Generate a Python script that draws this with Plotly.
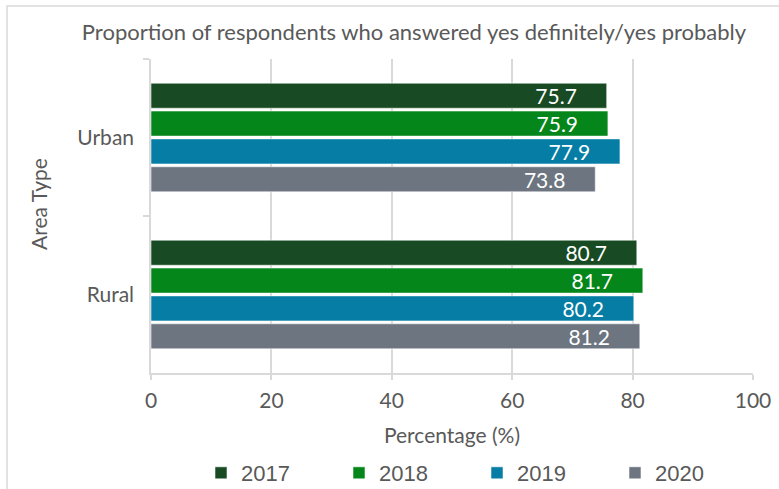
import plotly.graph_objects as go

# Survey results by area type and year
areas = ["Urban", "Rural"]
years = ["2017", "2018", "2019", "2020"]
values_2017 = [75.7, 80.7]
values_2018 = [75.9, 81.7]
values_2019 = [77.9, 80.2]
values_2020 = [73.8, 81.2]
series = [values_2017, values_2018, values_2019, values_2020]
colors = ["#184B24", "#04861A", "#057DA5", "#6C7580"]
x_ticks = [0, 20, 40, 60, 80, 100]

FONT = "Lato"
TEXT_GREY = "#595959"
LINE_GREY = "#D9D9D9"

fig = go.Figure()
for year, vals, col in zip(years, series, colors):
    fig.add_trace(go.Bar(
        y=areas, x=vals, name=year, orientation="h",
        marker=dict(color=col, line=dict(color="rgba(255,255,255,0.55)", width=1)),
        texttemplate="%{x:.1f}" + "\u00a0" * 5,
        textposition="inside", insidetextanchor="end", constraintext="none",
        textfont=dict(color="white", size=21, family=FONT),
        cliponaxis=False,
    ))

W, H = 779, 489
L, R, T, B = 151, 26, 59, 116
pw, ph = W - L - R, H - T - B

def px_x(p):
    return (p - L) / pw

def px_y(p):
    return (H - B - p) / ph

fig.update_layout(
    width=W, height=H,
    margin=dict(l=L, r=R, t=T, b=B, autoexpand=False),
    paper_bgcolor="white", plot_bgcolor="white",
    barmode="group", bargap=0.29, bargroupgap=0.1,
    font=dict(family=FONT, color=TEXT_GREY, size=21),
    title=dict(
        text="Proportion of respondents who answered yes definitely/yes probably",
        x=414 / W, xref="container", xanchor="center", y=1 - 32 / H, yanchor="middle",
        font=dict(size=22, color=TEXT_GREY, family=FONT),
    ),
    xaxis=dict(
        range=[0, 100], tickvals=x_ticks, showgrid=True, gridcolor=LINE_GREY, gridwidth=1.5,
        showline=True, linecolor=LINE_GREY, linewidth=1.5,
        ticks="outside", ticklen=5, tickcolor=LINE_GREY, tickwidth=1.5,
        ticklabelstandoff=3,
        tickfont=dict(size=21, color=TEXT_GREY),
        title=dict(text="Percentage (%)", font=dict(size=21, color=TEXT_GREY), standoff=17),
        zeroline=False, automargin=False,
    ),
    yaxis=dict(
        categoryorder="array", categoryarray=areas, autorange="reversed",
        showline=True, linecolor=LINE_GREY, linewidth=1.5,
        ticks="outside", tickson="boundaries", ticklen=6, tickcolor=LINE_GREY, tickwidth=1.5,
        ticklabelstandoff=11,
        tickfont=dict(size=21, color=TEXT_GREY),
        showgrid=False, automargin=False,
    ),
    legend=dict(
        orientation="h", x=0.5 + 25 / pw, xanchor="center", y=px_y(473), yanchor="middle",
        traceorder="normal", entrywidth=93, entrywidthmode="pixels",
        font=dict(size=22, color=TEXT_GREY, family="Liberation Sans"),
        itemwidth=30,
    ),
    showlegend=True,
    annotations=[dict(
        text="Area Type", textangle=-90, showarrow=False,
        xref="paper", yref="paper", x=px_x(38), y=px_y(204),
        xanchor="center", yanchor="middle",
        font=dict(size=21, color=TEXT_GREY, family=FONT),
    )],
    shapes=[dict(
        type="rect", xref="paper", yref="paper",
        x0=px_x(7), x1=px_x(820), y0=px_y(530), y1=px_y(6),
        line=dict(color=LINE_GREY, width=1.5), layer="below",
    )],
)

fig.write_html("out.html")
